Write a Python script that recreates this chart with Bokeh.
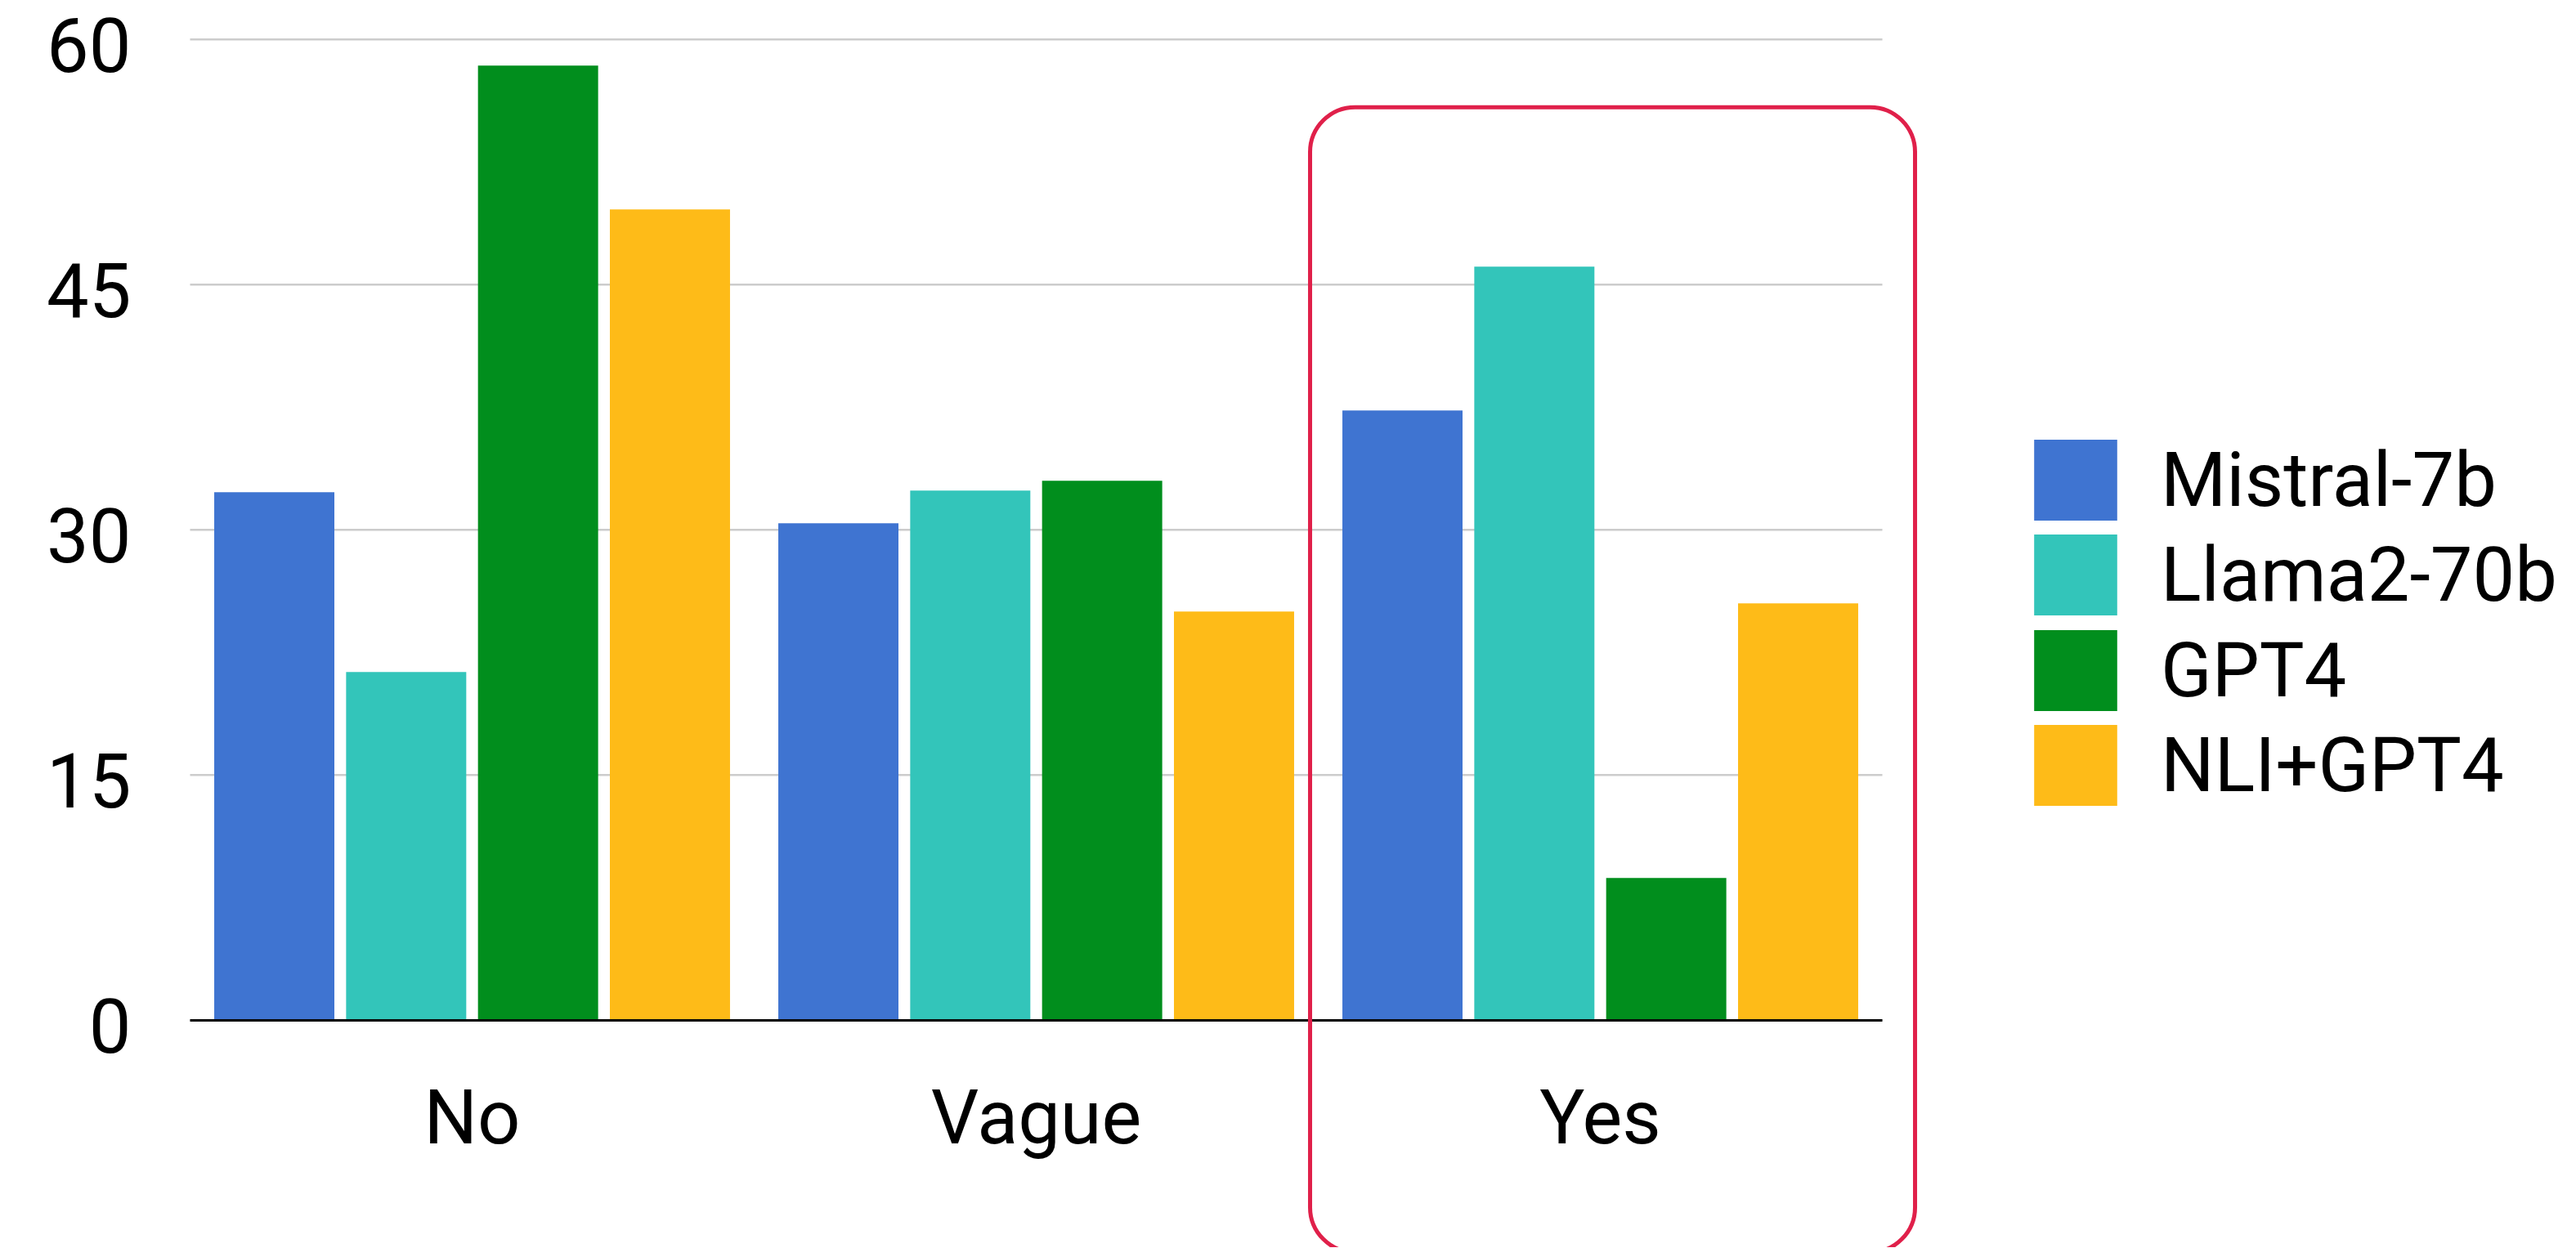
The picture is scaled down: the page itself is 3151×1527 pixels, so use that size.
from bokeh.plotting import figure
from bokeh.models import (ColumnDataSource, BoxAnnotation, FixedTicker, Range1d,
                          LinearAxis, Legend, LegendItem, Grid)
from bokeh.transform import dodge
from bokeh.embed import file_html
from bokeh.resources import INLINE

# ---- data ----
categories = ["No", "Vague", "Yes"]
series_names = ["Mistral-7b", "Llama2-70b", "GPT4", "NLI+GPT4"]
mistral_7b = [32.3, 30.4, 37.3]
llama2_70b = [21.3, 32.4, 46.1]
gpt4 = [58.4, 33.0, 8.7]
nli_gpt4 = [49.6, 25.0, 25.5]
y_ticks = [0, 15, 30, 45, 60]
highlight_category = "Yes"

# ---- style ----
colors = ["#3F74D1", "#33C5BA", "#018E1D", "#FEBB18"]
offsets = [-0.3507, -0.1169, 0.1169, 0.3507]
bar_width = 0.213
FONT = "Roboto"
FS = "92px"

cat_pos = [i + 0.5 for i in range(len(categories))]
src = ColumnDataSource(dict(pos=cat_pos, m=mistral_7b, l=llama2_70b, g=gpt4, n=nli_gpt4))
cols = ["m", "l", "g", "n"]

W, H = 3150, 1526
PX_X = 690.0            # pixels per category
PX_Y = 20.0             # pixels per unit
LEFT_PX, TOP_Y = 232, 62.385
x_start = -LEFT_PX / PX_X
x_end = x_start + W / PX_X
y_end = TOP_Y
y_start = TOP_Y - H / PX_Y

p = figure(
    x_range=Range1d(x_start, x_end), y_range=Range1d(y_start, y_end),
    width=W, height=H, output_backend="svg", toolbar_location=None,
    x_axis_location=None, y_axis_location=None,
    min_border=0, min_border_left=0, min_border_right=0,
    min_border_top=0, min_border_bottom=0,
)
p.outline_line_color = None
p.background_fill_color = "white"
p.border_fill_color = "white"
for r in p.center:
    if isinstance(r, Grid):
        r.visible = False

# horizontal grid lines, limited to the plotting area
n_cat = len(categories)
p.segment(x0=[0] * len(y_ticks), x1=[n_cat] * len(y_ticks), y0=y_ticks, y1=y_ticks,
          line_color="#CCCCCC", line_width=2.5)

renderers = []
for col, c, off in zip(cols, colors, offsets):
    r = p.vbar(x=dodge("pos", off), top=col, width=bar_width, source=src,
               fill_color=c, line_color=None)
    renderers.append(r)

# x axis fixed at y = 0
xaxis = LinearAxis(fixed_location=0, bounds=(0, n_cat),
                   ticker=FixedTicker(ticks=cat_pos),
                   major_label_overrides={pos: c for pos, c in zip(cat_pos, categories)})
xaxis.axis_line_color = "black"
xaxis.axis_line_width = 3
xaxis.major_tick_line_color = None
xaxis.minor_tick_line_color = None
xaxis.major_tick_out = 0
xaxis.major_label_standoff = 66
xaxis.major_label_text_font = FONT
xaxis.major_label_text_font_size = FS
xaxis.major_label_text_color = "black"
p.add_layout(xaxis, "below")

# y axis fixed at the left of the plotting area (labels sit slightly below the grid lines)
shift = 0.33
p.extra_y_ranges = {"lab": Range1d(y_start + shift, y_end + shift)}
yaxis = LinearAxis(fixed_location=0, y_range_name="lab", ticker=FixedTicker(ticks=y_ticks))
yaxis.axis_line_color = None
yaxis.major_tick_line_color = None
yaxis.minor_tick_line_color = None
yaxis.major_tick_out = 0
yaxis.major_label_standoff = 72
yaxis.major_label_text_font = FONT
yaxis.major_label_text_font_size = FS
yaxis.major_label_text_color = "black"
p.add_layout(yaxis, "left")

# highlight box around the "Yes" group
idx = categories.index(highlight_category)
box = BoxAnnotation(left=idx - 0.0145, right=idx + 1.058, top=55.85, bottom=-14.2,
                    fill_alpha=0, line_color="#E0204A", line_alpha=1.0, line_width=5,
                    border_radius=55, level="overlay")
p.add_layout(box)

# legend: one entry per Legend so the row pitch can be set exactly
LEG_X, LEG_Y0, LEG_STEP = 2475, 877, 116.3
for i, (n, r) in enumerate(zip(series_names, renderers)):
    lg = Legend(items=[LegendItem(label=n, renderers=[r])],
                location=(LEG_X, int(round(LEG_Y0 - i * LEG_STEP))))
    lg.border_line_color = None
    lg.background_fill_alpha = 0
    lg.padding = 0
    lg.margin = 0
    lg.glyph_width = 127
    lg.glyph_height = 124
    lg.label_height = 124
    lg.spacing = 0
    lg.label_standoff = 41
    lg.label_text_font = FONT
    lg.label_text_font_size = FS
    lg.label_text_color = "black"
    lg.label_text_baseline = "middle"
    p.add_layout(lg, "center")

open("out.html", "w").write(file_html(p, INLINE))
